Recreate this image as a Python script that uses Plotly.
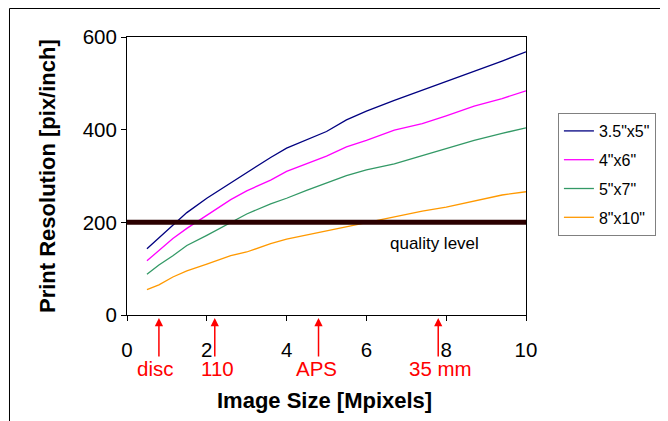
import plotly.graph_objects as go

# ---- data ----
mpixels = [0.5, 0.8, 1.15, 1.5, 2.0, 2.6, 3.0, 3.6, 4.0, 4.5, 5.0, 5.5, 6.0, 6.7, 7.4, 8.0, 8.7, 9.4, 10.0]
res_3x5 = [143, 167, 195, 221, 252, 285, 308, 340, 360, 378, 396, 421, 440, 463, 485, 503, 525, 548, 568]
res_4x6 = [117, 140, 165, 187, 216, 249, 268, 291, 310, 326, 343, 363, 377, 399, 413, 430, 451, 467, 484]
res_5x7 = [88, 108, 128, 150, 172, 200, 218, 240, 252, 269, 285, 301, 313, 326, 344, 359, 377, 392, 404]
res_8x10 = [55, 65, 82, 95, 110, 128, 136, 154, 164, 173, 182, 191, 200, 213, 224, 233, 246, 259, 266]
series_names = ['3.5"x5"', '4"x6"', '5"x7"', '8"x10"']
series_colors = ["#000080", "#FF00FF", "#339966", "#FF9900"]

quality_x = [0, 10]
quality_y = [200, 200]
quality_label = "quality level"

film_formats = ["disc", "110", "APS", "35 mm"]
film_mpix = [0.8, 2.2, 4.8, 7.8]
label_shift = [-4, 3, -2, 2]

x_ticks = [0, 2, 4, 6, 8, 10]
y_ticks = [0, 200, 400, 600]

FONT = "Liberation Sans, Arial, sans-serif"

fig = go.Figure()
for name, vals, col in zip(series_names, [res_3x5, res_4x6, res_5x7, res_8x10], series_colors):
    fig.add_trace(go.Scatter(x=mpixels, y=vals, mode="lines", name=name, legendgroup=name,
                             line=dict(color=col, width=1.3)))

fig.add_trace(go.Scatter(x=quality_x, y=quality_y, mode="lines", showlegend=False,
                         line=dict(color="#2b0000", width=5), hoverinfo="skip"))

annotations = [
    dict(x=7.7, y=155, xref="x", yref="y", text=quality_label, showarrow=False,
         xanchor="center", yanchor="middle",
         font=dict(family=FONT, size=17, color="black")),
    dict(x=0.496, y=-0.306, xref="paper", yref="paper", text="<b>Image Size [Mpixels]</b>",
         showarrow=False, xanchor="center", yanchor="middle",
         font=dict(family=FONT, size=22, color="black")),
    dict(x=-0.2005, y=0.5, xref="paper", yref="paper", text="<b>Print Resolution [pix/inch]</b>",
         showarrow=False, textangle=-90, xanchor="center", yanchor="middle",
         font=dict(family=FONT, size=22, color="black")),
]
for lab, xv, sh in zip(film_formats, film_mpix, label_shift):
    annotations.append(dict(x=xv, y=-0.011, xref="x", yref="paper", text="", showarrow=True,
                            ax=0, ay=40, axref="pixel", ayref="pixel",
                            arrowhead=2, arrowsize=1.1, arrowwidth=1.5, arrowcolor="#FF0000",
                            standoff=0, startstandoff=0))
    annotations.append(dict(x=xv, y=-0.194, xref="x", yref="paper", text=lab, showarrow=False,
                            xanchor="center", yanchor="middle", xshift=sh,
                            font=dict(family=FONT, size=20.5, color="#FF0000")))

fig.update_layout(
    width=660, height=413,
    margin=dict(l=119, r=142, t=29, b=106),
    paper_bgcolor="white", plot_bgcolor="white",
    font=dict(family=FONT, size=20.5, color="black"),
    showlegend=True,
    legend=dict(x=1.08, y=0.7266, xanchor="left", yanchor="top",
                bordercolor="#808080", borderwidth=1, bgcolor="white",
                font=dict(family=FONT, size=16, color="black"), tracegroupgap=5),
    annotations=annotations,
    shapes=[dict(type="rect", xref="paper", yref="paper", x0=-0.2945, y0=-0.5, x1=1.6, y1=1.1025,
                 line=dict(color="black", width=1), fillcolor="rgba(0,0,0,0)", layer="below")],
)
fig.update_xaxes(range=[0, 10], tickvals=x_ticks, showgrid=False, zeroline=False,
                 showline=True, linecolor="black", linewidth=1, mirror=True,
                 ticks="outside", ticklen=5, tickcolor="black", ticklabelstandoff=11,
                 tickfont=dict(family=FONT, size=20.5))
fig.update_yaxes(range=[0, 600], tickvals=y_ticks, showgrid=False, zeroline=False,
                 showline=True, linecolor="black", linewidth=1, mirror=True,
                 ticks="outside", ticklen=5, tickcolor="black",
                 tickfont=dict(family=FONT, size=20.5))

fig.write_html("out.html")
